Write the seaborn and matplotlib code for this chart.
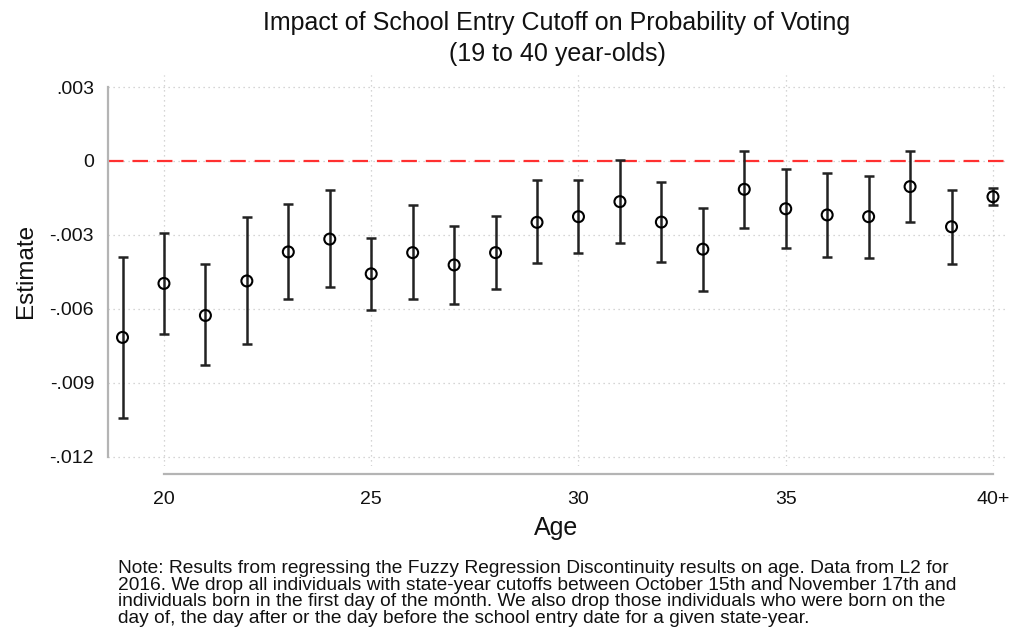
import matplotlib
matplotlib.use("Agg")
import matplotlib.pyplot as plt
import seaborn as sns
import pandas as pd

ages = [19, 20, 21, 22, 23, 24, 25, 26, 27, 28, 29, 30, 31, 32, 33, 34, 35, 36, 37, 38, 39, 40]
estimate = [-7.16, -4.97, -6.27, -4.87, -3.69, -3.17, -4.58, -3.72, -4.22, -3.72, -2.49,
            -2.26, -1.65, -2.48, -3.58, -1.15, -1.94, -2.19, -2.26, -1.04, -2.67, -1.45]
ci_low = [-10.42, -7.02, -8.30, -7.43, -5.62, -5.10, -6.04, -5.62, -5.82, -5.18, -4.15,
          -3.74, -3.33, -4.10, -5.28, -2.72, -3.53, -3.89, -3.93, -2.46, -4.17, -1.80]
ci_high = [-3.91, -2.91, -4.20, -2.29, -1.76, -1.18, -3.11, -1.80, -2.63, -2.25, -0.77,
           -0.78, 0.04, -0.85, -1.90, 0.42, -0.32, -0.49, -0.61, 0.42, -1.19, -1.10]
xtick_vals = [20, 25, 30, 35, 40]
xtick_labels = ["20", "25", "30", "35", "40+"]
ytick_vals = [0.003, 0, -0.003, -0.006, -0.009, -0.012]
ytick_labels = [".003", "0", "-.003", "-.006", "-.009", "-.012"]

df = pd.DataFrame({
    "age": ages,
    "est": [v / 1000 for v in estimate],
    "lo": [v / 1000 for v in ci_low],
    "hi": [v / 1000 for v in ci_high],
})

sns.set_theme(style="white")
plt.rcParams["font.family"] = ["Liberation Sans", "DejaVu Sans"]

fig = plt.figure(figsize=(10.10, 6.37), dpi=100)
ax = fig.add_axes([108 / 1010, 1 - 466 / 637, 897 / 1010, 391 / 637])

# grid
grid_kw = dict(color="#c8c8c8", lw=0.9, ls=(0, (1, 3)), zorder=0)
for v in ytick_vals:
    ax.axhline(v, **grid_kw)
for v in xtick_vals:
    ax.axvline(v, **grid_kw)

ax.axhline(0, color="#ff3030", lw=1.6, ls=(0, (7, 4)), zorder=1)

ax.errorbar(df["age"], df["est"],
            yerr=[df["est"] - df["lo"], df["hi"] - df["est"]],
            fmt="none", ecolor="#222222", elinewidth=1.8, capsize=3.4, capthick=1.8, zorder=2)
sns.scatterplot(data=df, x="age", y="est", ax=ax, marker="o", s=62,
                facecolor="none", edgecolor="black", linewidth=1.5, zorder=3, legend=False)

ax.set_xlim(18.65, 40.29)
ax.set_ylim(-0.01238, 0.00349)

for s in ["top", "right"]:
    ax.spines[s].set_visible(False)
ax.spines["left"].set_bounds(-0.012, 0.003)
ax.spines["bottom"].set_bounds(20, 40)
ax.spines["bottom"].set_position(("outward", 6))
for s in ["left", "bottom"]:
    ax.spines[s].set_color("#b4b4b4")
    ax.spines[s].set_linewidth(1.6)

ax.set_xticks(xtick_vals)
ax.set_xticklabels(xtick_labels)
ax.set_yticks(ytick_vals)
ax.set_yticklabels(ytick_labels)
ax.tick_params(axis="both", which="both", direction="out", length=5, width=1.2,
               color="#b4b4b4", labelsize=14, labelcolor="#111111")
ax.tick_params(axis="x", pad=7)
ax.tick_params(axis="y", pad=5)

ax.set_xlabel("Age", fontsize=18, color="#111111", labelpad=6)
ax.set_ylabel("Estimate", fontsize=17.5, color="#111111", labelpad=9)

fig.text(557 / 1010, 1 - 23 / 637, "Impact of School Entry Cutoff on Probability of Voting",
         ha="center", va="center", fontsize=18, color="#111111")
fig.text(557 / 1010, 1 - 54 / 637, "(19 to 40 year-olds)",
         ha="center", va="center", fontsize=18, color="#111111")

note = ("Note: Results from regressing the Fuzzy Regression Discontinuity results on age. Data from L2 for\n"
        "2016. We drop all individuals with state-year cutoffs between October 15th and November 17th and\n"
        "individuals born in the first day of the month. We also drop those individuals who were born on the\n"
        "day of, the day after or the day before the school entry date for a given state-year.")
fig.text(118 / 1010, 1 - 560 / 637, note, ha="left", va="top", fontsize=13.8,
         color="#111111", linespacing=0.98)

fig.savefig("out.png", dpi=100, facecolor="white")
